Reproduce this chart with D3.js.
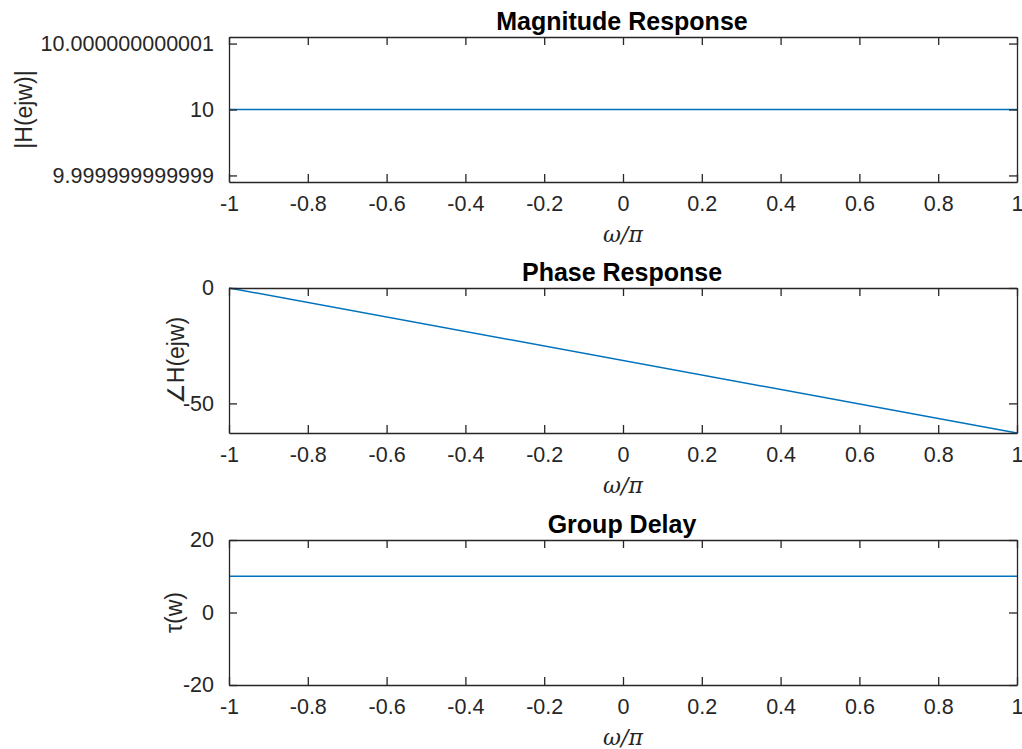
<!DOCTYPE html>
<html>
<head>
<meta charset="utf-8">
<script src="https://cdn.jsdelivr.net/npm/d3@7"></script>
<style>
  body { margin: 0; background: #fff; }
  svg { display: block; }
  text { font-family: "Liberation Sans", Arial, sans-serif; fill: #262626; }
</style>
</head>
<body>
<script>
const width = 1022
const height = 749

// normalized frequency w/pi, two end points of each line
const omega = [-1, 1]
const magnitude = [10, 10]
const phase = [0, -62.83]
const groupDelay = [10, 10]

const xTicks = [-1, -0.8, -0.6, -0.4, -0.2, 0, 0.2, 0.4, 0.6, 0.8, 1]
const xTickLabels = ['-1', '-0.8', '-0.6', '-0.4', '-0.2', '0', '0.2', '0.4', '0.6', '0.8', '1']

const magTicks = [10 - 1e-12, 10, 10 + 1e-12]
const magTickLabels = ['9.999999999999', '10', '10.000000000001']
const phaseTicks = [-50, 0]
const phaseTickLabels = ['-50', '0']
const delayTicks = [-20, 0, 20]
const delayTickLabels = ['-20', '0', '20']

const lineColor = '#0072BD'
const axisColor = '#262626'

var svg = d3.select('body').append('svg')
    .attr('width', width)
    .attr('height', height)

// one subplot
function drawPanel(p) {
    let x = d3.scaleLinear().domain([-1, 1]).range([229, 1017])
    let y = d3.scaleLinear().domain(p.domain).range([p.bottom, p.top])
    let g = svg.append('g')

    // line
    let line = d3.line()
        .x((d, i) => x(omega[i]))
        .y(d => y(d))
    g.append('path')
        .datum(p.values)
        .attr('d', line)
        .style('fill', 'none')
        .style('stroke', lineColor)
        .style('stroke-width', 1.5)

    // box + ticks on all sides, MATLAB style
    let tl = 8
    let bottomAxis = d3.axisBottom(x).tickValues(xTicks).tickSizeInner(-tl).tickSizeOuter(0)
        .tickFormat((d, i) => xTickLabels[i]).tickPadding(14)
    let topAxis = d3.axisTop(x).tickValues(xTicks).tickSizeInner(-tl).tickSizeOuter(0).tickFormat('')
    let leftAxis = d3.axisLeft(y).tickValues(p.ticks).tickSizeInner(-tl).tickSizeOuter(0)
        .tickFormat((d, i) => p.tickLabels[i]).tickPadding(15)
    let rightAxis = d3.axisRight(y).tickValues(p.ticks).tickSizeInner(-tl).tickSizeOuter(0).tickFormat('')

    g.append('g').attr('transform', 'translate(0,' + p.bottom + ')').call(bottomAxis)
    g.append('g').attr('transform', 'translate(0,' + p.top + ')').call(topAxis)
    g.append('g').attr('transform', 'translate(229,0)').call(leftAxis)
    g.append('g').attr('transform', 'translate(1017,0)').call(rightAxis)

    g.selectAll('.domain').style('stroke', axisColor).style('stroke-width', 1.3)
    g.selectAll('.tick line').style('stroke', axisColor).style('stroke-width', 1.3)
    g.selectAll('.tick text')
        .style('font-family', '"Liberation Sans", Arial, sans-serif')
        .style('font-size', '21.5px')
        .style('fill', axisColor)

    // title
    g.append('text')
        .attr('x', 622)
        .attr('y', p.top - 7)
        .attr('text-anchor', 'middle')
        .style('font-size', '25px')
        .style('font-weight', 'bold')
        .style('fill', '#000')
        .text(p.title)

    // x label
    g.append('text')
        .attr('x', 623)
        .attr('y', p.bottom + 60)
        .attr('text-anchor', 'middle')
        .style('font-family', '"DejaVu Serif", serif')
        .style('font-style', 'italic')
        .style('font-size', '22px')
        .text('\u03c9/\u03c0')

    // y label
    g.append('text')
        .attr('transform', 'translate(' + p.ylabelX + ',' + (p.top + p.bottom) / 2 + ') rotate(-90)')
        .attr('text-anchor', 'middle')
        .style('font-size', '23px')
        .text(p.ylabel)
}

drawPanel({ title: 'Magnitude Response', ylabel: '|H(ejw)|', ylabelX: 32,
    top: 37, bottom: 182, domain: [10 - 1.1e-12, 10 + 1.1e-12],
    values: magnitude, ticks: magTicks, tickLabels: magTickLabels })

drawPanel({ title: 'Phase Response', ylabel: '\u2220H(ejw)', ylabelX: 184,
    top: 288, bottom: 433, domain: [-62.83, 0],
    values: phase, ticks: phaseTicks, tickLabels: phaseTickLabels })

drawPanel({ title: 'Group Delay', ylabel: '\u03c4(w)', ylabelX: 182,
    top: 540, bottom: 685, domain: [-20, 20],
    values: groupDelay, ticks: delayTicks, tickLabels: delayTickLabels })
</script>
</body>
</html>
